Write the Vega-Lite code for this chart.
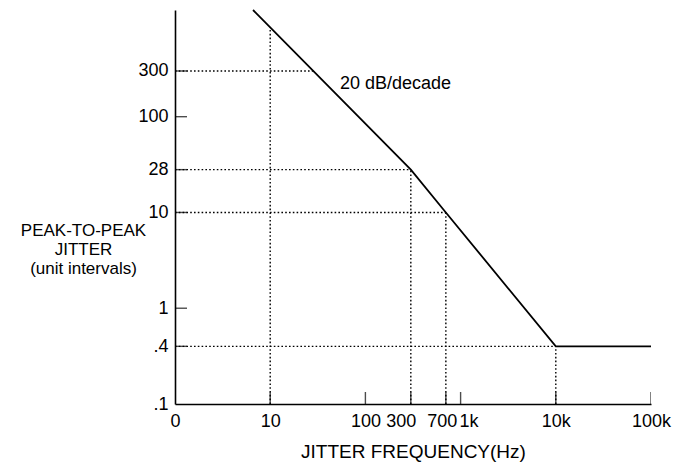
{
  "$schema": "https://vega.github.io/schema/vega-lite/v6.json",
  "width": 476,
  "height": 394,
  "autosize": {"type": "none"},
  "padding": {"left": 175, "top": 10, "right": 26, "bottom": 59},
  "background": "white",
  "config": {
    "view": {"stroke": null},
    "font": "Liberation Sans",
    "axis": {
      "grid": false,
      "domainColor": "black",
      "domainWidth": 1.6,
      "ticks": false,
      "labelPadding": 8,
      "labelFont": "Liberation Sans",
      "labelFontSize": 18,
      "labelColor": "black",
      "labelOverlap": false,
      "labelFlush": false,
      "titleFont": "Liberation Sans",
      "titleFontWeight": "normal",
      "titleColor": "black"
    }
  },
  "datasets": {
    "curve": [
      {"freq": 6.6, "jitter": 1300},
      {"freq": 300, "jitter": 28},
      {"freq": 700, "jitter": 10},
      {"freq": 10000, "jitter": 0.4},
      {"freq": 100000, "jitter": 0.4}
    ],
    "guides": [
      {"f1": 1, "f2": 28.6, "j1": 300, "j2": 300},
      {"f1": 1, "f2": 300, "j1": 28, "j2": 28},
      {"f1": 1, "f2": 700, "j1": 10, "j2": 10},
      {"f1": 1, "f2": 10000, "j1": 0.4, "j2": 0.4},
      {"f1": 10, "f2": 10, "j1": 0.1, "j2": 858},
      {"f1": 300, "f2": 300, "j1": 0.1, "j2": 28},
      {"f1": 700, "f2": 700, "j1": 0.1, "j2": 10},
      {"f1": 10000, "f2": 10000, "j1": 0.1, "j2": 0.4}
    ],
    "xticks": [
      {"freq": 10}, {"freq": 100}, {"freq": 300}, {"freq": 700},
      {"freq": 1000}, {"freq": 10000}, {"freq": 100000}
    ],
    "yticks": [
      {"jitter": 0.4}, {"jitter": 1}, {"jitter": 10},
      {"jitter": 28}, {"jitter": 100}, {"jitter": 300}
    ],
    "note": [
      {"freq": 54, "jitter": 195, "label": "20 dB/decade"}
    ]
  },
  "layer": [
    {
      "data": {"name": "guides"},
      "mark": {"type": "rule", "color": "black", "strokeWidth": 1.4, "strokeDash": [1.6, 2.2]},
      "encoding": {
        "x": {
          "field": "f1", "type": "quantitative",
          "scale": {"type": "log", "domain": [1, 100000], "nice": false},
          "axis": {
            "values": [1, 10, 100, 300, 700, 1000, 10000, 100000],
            "labelExpr": "datum.value == 1 ? '0' : datum.value >= 1000 ? format(datum.value/1000,'d') + 'k' : format(datum.value,'d')",
            "labelOffset": {"condition": [{"test": "datum.value == 300", "value": -10}, {"test": "datum.value == 700", "value": -4}, {"test": "datum.value == 1000", "value": 8}], "value": 0},
            "title": "JITTER FREQUENCY(Hz)",
            "titleFontSize": 19,
            "titlePadding": 12
          }
        },
        "x2": {"field": "f2"},
        "y": {
          "field": "j1", "type": "quantitative",
          "scale": {"type": "log", "domain": [0.1, 1300], "nice": false},
          "axis": {
            "values": [0.1, 0.4, 1, 10, 28, 100, 300],
            "labelExpr": "datum.value == 0.1 ? '.1' : datum.value == 0.4 ? '.4' : format(datum.value,'d')",
            "labelPadding": 7,
            "title": ["PEAK-TO-PEAK", "JITTER", "(unit intervals)"],
            "titleAngle": 0,
            "titleAlign": "center",
            "titleBaseline": "top",
            "titleX": -92,
            "titleY": 212,
            "titleFontSize": 17,
            "titleLineHeight": 19
          }
        },
        "y2": {"field": "j2"}
      }
    },
    {
      "data": {"name": "xticks"},
      "mark": {"type": "tick", "orient": "vertical", "color": "black", "size": 24, "thickness": 1.4, "clip": true},
      "encoding": {
        "x": {"field": "freq", "type": "quantitative"},
        "y": {"datum": 0.1, "type": "quantitative"}
      }
    },
    {
      "data": {"name": "yticks"},
      "mark": {"type": "tick", "orient": "horizontal", "color": "black", "size": 24, "thickness": 1.4, "clip": true},
      "encoding": {
        "x": {"datum": 1, "type": "quantitative"},
        "y": {"field": "jitter", "type": "quantitative"}
      }
    },
    {
      "data": {"name": "curve"},
      "mark": {"type": "line", "color": "black", "strokeWidth": 1.8},
      "encoding": {
        "x": {"field": "freq", "type": "quantitative"},
        "y": {"field": "jitter", "type": "quantitative"}
      }
    },
    {
      "data": {"name": "note"},
      "mark": {"type": "text", "align": "left", "baseline": "alphabetic", "fontSize": 18, "color": "black", "font": "Liberation Sans"},
      "encoding": {
        "x": {"field": "freq", "type": "quantitative"},
        "y": {"field": "jitter", "type": "quantitative"},
        "text": {"field": "label"}
      }
    }
  ]
}
